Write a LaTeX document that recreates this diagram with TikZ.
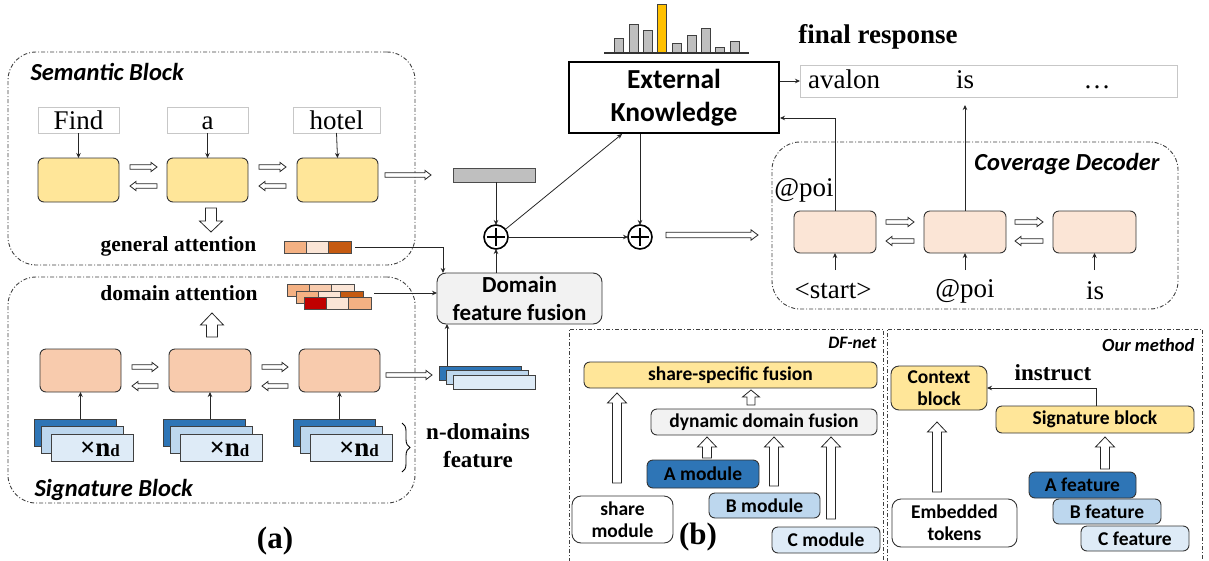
\documentclass[tikz,border=0pt]{standalone}
\usepackage{fontspec}
\setmainfont{Liberation Serif}
\newfontfamily\sansf{Carlito}
\usetikzlibrary{calc,arrows.meta,decorations.pathreplacing}

\definecolor{ylw}{HTML}{FFE699}
\definecolor{peach}{HTML}{F8CBAD}
\definecolor{peachl}{HTML}{FBE5D6}
\definecolor{orgl}{HTML}{F4B183}
\definecolor{orgd}{HTML}{C55A11}
\definecolor{redd}{HTML}{C00000}
\definecolor{blued}{HTML}{2E75B6}
\definecolor{bluem}{HTML}{BDD7EE}
\definecolor{bluel}{HTML}{DEEBF7}
\definecolor{grayf}{HTML}{F2F2F2}
\definecolor{grayb}{HTML}{BFBFBF}
\definecolor{gold}{HTML}{FFC000}

\newcommand\tokf{\fontsize{27}{30}\selectfont}
\newcommand\capf{\bfseries\fontsize{21.5}{24}\selectfont}
\newcommand\blkf{\sansf\bfseries\itshape\fontsize{24.5}{28}\selectfont}
\newcommand\boxf{\sansf\bfseries\fontsize{19.5}{22}\selectfont}

% hollow block arrow: [style] {start} {tip} {half shaft} {half head} {head length}
\newcommand\harrow[6][]{%
  \path ($#3!#6!#2$) coordinate (hb);
  \draw[hollow,#1] ($#2!#4!90:#3$) -- ($(hb)!#4!90:#3$) -- ($(hb)!#5!90:#3$) -- #3
     -- ($(hb)!#5!-90:#3$) -- ($(hb)!#4!-90:#3$) -- ($#2!#4!-90:#3$) -- cycle;}

\begin{document}
\begin{tikzpicture}[x=1pt,y=-1pt,
  blockframe/.style={draw=black!75, line width=0.9pt, dash pattern=on 4pt off 2pt on 1pt off 2pt,
      rounded corners=28pt, inner sep=0pt, outer sep=0pt},
  openframe/.style={draw=black!75, line width=0.9pt, dash pattern=on 4pt off 2pt on 1pt off 2pt},
  cell/.style={draw=black!80, line width=0.9pt, rounded corners=6pt, inner sep=0pt, outer sep=0pt},
  tok/.style={draw=black!22, line width=0.9pt, fill=white, inner sep=0pt, outer sep=0pt,
      font=\tokf, text height=18pt, text depth=0pt},
  feat/.style={draw=black!75, line width=0.9pt, inner sep=0pt, outer sep=0pt},
  attn/.style={draw=black!70, line width=0.7pt},
  bar/.style={draw=black!75, line width=0.9pt, fill=grayb},
  labelbox/.style={cell, font=\boxf, align=center},
  arr/.style={-{Stealth[length=5pt,width=4.5pt]}, line width=0.8pt, draw=black!85},
  hollow/.style={draw=black!85, fill=white, line width=0.8pt, line join=miter},
  oplus/.style={circle, draw=black, line width=1.6pt, minimum size=24pt, inner sep=0pt, outer sep=0pt},
]
\useasboundingbox (0,0) rectangle (1209,560);

% ---------- dashed block frames ----------
\node[blockframe, minimum width=407pt, minimum height=213pt] (sem) at (211.5,158.5) {};
\node[blockframe, minimum width=407pt, minimum height=226pt] (sig) at (211.5,390) {};
\node[blockframe, minimum width=406pt, minimum height=167pt] (dec) at (975,225.5) {};

\node[anchor=west, font=\blkf] (semt) at (27,72) {Semantic Block};
\node[anchor=west, font=\blkf] (sigt) at (31,490) {Signature Block};
\node[anchor=east, font=\blkf] (dect) at (1163,164) {Coverage Decoder};

% ---------- semantic block ----------
\node[tok, minimum width=81pt, minimum height=26pt] (t1) at (78.5,120) {Find};
\node[tok, minimum width=81pt, minimum height=26pt] (t2) at (207.5,120) {a};
\node[tok, minimum width=87pt, minimum height=26pt] (t3) at (336.5,120) {hotel};

\node[cell, fill=ylw, minimum width=81pt, minimum height=44pt] (s1) at (78.5,180) {};
\node[cell, fill=ylw, minimum width=81pt, minimum height=44pt] (s2) at (207.5,180) {};
\node[cell, fill=ylw, minimum width=81pt, minimum height=44pt] (s3) at (337.5,180) {};

\draw[arr] (t1.south) -- (s1.north);
\draw[arr] (t2.south) -- (s2.north);
\draw[arr] (t3.south) -- (s3.north);

\harrow{(130,167)}{(157,167)}{2.3pt}{4.6pt}{6pt}
\harrow{(157,186)}{(130,186)}{2.3pt}{4.6pt}{6pt}
\harrow{(259,167)}{(286,167)}{2.3pt}{4.6pt}{6pt}
\harrow{(286,186)}{(259,186)}{2.3pt}{4.6pt}{6pt}
\harrow{(385,175)}{(431,175)}{2.3pt}{4.6pt}{6pt}

\harrow{(211,208)}{(211,232)}{5.5pt}{11.5pt}{11pt}
\node[font=\capf] (gatt) at (178.5,246) {general attention};

\node[attn, fill=orgl, minimum width=22.33pt, minimum height=12pt, inner sep=0pt] (ga1) at (295.2,247) {};
\node[attn, fill=peachl, minimum width=22.33pt, minimum height=12pt, inner sep=0pt] (ga2) at (317.5,247) {};
\node[attn, fill=orgd, minimum width=22.33pt, minimum height=12pt, inner sep=0pt] (ga3) at (339.8,247) {};

% ---------- signature block ----------
\node[font=\capf] (datt) at (179,293) {domain attention};
\foreach \x/\y/\ca/\cb/\cc in {287/284/orgl/peach/peachl, 296/291/orgl/peachl/orgd, 304/297/redd/peachl/orgl}{
  \draw[attn, fill=\ca] (\x,\y) rectangle ++(22.33,12);
  \draw[attn, fill=\cb] ({\x+22.33},\y) rectangle ++(22.33,12);
  \draw[attn, fill=\cc] ({\x+44.66},\y) rectangle ++(22.33,12);
}
\coordinate (da) at (374,293);
\harrow{(212,337)}{(212,313)}{5.5pt}{11.5pt}{12pt}

\node[cell, fill=peach, minimum width=81pt, minimum height=43pt] (g1) at (80.5,370.5) {};
\node[cell, fill=peach, minimum width=82pt, minimum height=43pt] (g2) at (210,370.5) {};
\node[cell, fill=peach, minimum width=81pt, minimum height=43pt] (g3) at (339.5,370.5) {};

\harrow{(132,367)}{(158,367)}{2.3pt}{4.6pt}{6pt}
\harrow{(158,386)}{(132,386)}{2.3pt}{4.6pt}{6pt}
\harrow{(262,367)}{(288,367)}{2.3pt}{4.6pt}{6pt}
\harrow{(288,386)}{(262,386)}{2.3pt}{4.6pt}{6pt}
\harrow{(386,375)}{(432,375)}{2.3pt}{4.6pt}{6pt}

\foreach \d/\i in {0/1,129.5/2,259/3}{
  \node[feat, fill=blued, minimum width=82pt, minimum height=27pt] (fb\i) at ({75+\d},432.5) {};
  \node[feat, fill=bluem, minimum width=82pt, minimum height=27pt] (fm\i) at ({82+\d},439.5) {};
  \node[feat, fill=bluel, minimum width=82pt, minimum height=27pt] (ff\i) at ({92+\d},447.5) {};
  \node[inner sep=0pt] (nd\i) at ({100+\d},449) {\tokf\bfseries ×n\fontsize{17}{17}\selectfont d};
  \draw[arr] (g\i |- fb\i.north) -- (g\i.south);
}

\draw[decorate, decoration={brace, amplitude=8pt}, line width=0.9pt] (402,423) -- (402,472);
\node[font=\bfseries\fontsize{23}{28}\selectfont, align=center] (ndom) at (478,446) {n-domains\\feature};

% right feature stack
\node[feat, fill=blued, minimum width=82pt, minimum height=14pt] (rb) at (480,373) {};
\node[feat, fill=bluem, minimum width=82pt, minimum height=14pt] (rm) at (487,377) {};
\node[feat, fill=bluel, minimum width=82pt, minimum height=14pt] (rf) at (494,382) {};

% ---------- fusion and knowledge ----------
\node[cell, rounded corners=9pt, fill=grayf, minimum width=165pt, minimum height=51pt,
      font=\sansf\bfseries\fontsize{23}{28}\selectfont, align=center] (dff) at (519.5,298.5) {Domain\\feature fusion};
\node[draw=black!70, line width=0.8pt, fill=grayb, minimum width=82pt, minimum height=14pt, inner sep=0pt] (gr) at (494,175) {};

\node[oplus] (o1) at (496,237) {};
\node[oplus] (o2) at (640,237) {};
\foreach \o in {o1,o2}{
  \draw[line width=1.6pt] ($(\o)+(-9,0)$) -- ($(\o)+(9,0)$);
  \draw[line width=1.6pt] ($(\o)+(0,-9)$) -- ($(\o)+(0,9)$);
}

\node[draw=black, line width=2pt, fill=white, minimum width=210pt, minimum height=71pt, inner sep=0pt,
      font=\sansf\bfseries\fontsize{27.5}{33}\selectfont, align=center] (EK) at (674,97.5) {External\\Knowledge};

% score bars
\foreach \x/\t in {614/38,629/24,643/30,672/43,687/35,701/28,715/47,730/41}
  \draw[bar] (\x,53) rectangle ({\x+9},\t);
\draw[bar, fill=gold] (657,53) rectangle (666,4);
\draw[line width=1.6pt, black!80] (604,53) -- (749,53);

\node[font=\bfseries\fontsize{27}{30}\selectfont] (frt) at (878,37) {final response};
\node[tok, minimum width=377pt, minimum height=32pt] (fr) at (988.5,81) {};
\node[font=\tokf, text height=18pt, text depth=6pt, inner sep=0pt] (w1) at (844,82) {avalon};
\node[font=\tokf, text height=18pt, text depth=6pt, inner sep=0pt] (w2) at (965,82) {is};
\node[font=\tokf, text height=18pt, text depth=6pt, inner sep=0pt] (w3) at (1097,82) {…};

% connectors of the fusion part
\draw[arr] ($(ga3.east)+(4,0)$) -| ($(dff.north west)+(6,0)$);
\draw[arr] (da) -- (da -| dff.west);
\draw[arr] ($(rb.north west)+(8,0)$) coordinate (rq) -- (rq |- dff.south);
\draw[arr] (o1 |- dff.north) -- (o1.south);
\draw[arr] (o1 |- gr.south) -- (o1.north);
\draw[arr] (o1) -- ($(EK.south west)+(54,0)$);
\draw[arr] (o1) -- (o2);
\draw[arr] (o2 |- EK.south) -- (o2.north);
\harrow{(666,235)}{(758,235)}{2.8pt}{5.2pt}{7pt}
\draw[arr] (EK.east |- fr.west) -- (fr.west);

% ---------- coverage decoder ----------
\node[cell, fill=peachl, minimum width=82pt, minimum height=42pt] (d1) at (835,232) {};
\node[cell, fill=peachl, minimum width=82pt, minimum height=42pt] (d2) at (965,232) {};
\node[cell, fill=peachl, minimum width=83pt, minimum height=42pt] (d3) at (1094.5,232) {};
\node[font=\tokf] (poi) at (804,190) {@poi};

\harrow{(886,222)}{(914,222)}{2.3pt}{4.6pt}{6pt}
\harrow{(914,241)}{(886,241)}{2.3pt}{4.6pt}{6pt}
\harrow{(1015,222)}{(1043,222)}{2.3pt}{4.6pt}{6pt}
\harrow{(1043,241)}{(1015,241)}{2.3pt}{4.6pt}{6pt}

\node[font=\tokf] (l1) at (833,291) {<start>};
\node[font=\tokf] (l2) at (965,291) {@poi};
\node[font=\tokf] (l3) at (1095,291) {is};
\draw[arr] ($(d1.south)+(0,17)$) -- (d1.south);
\draw[arr] ($(d2.south)+(0,17)$) -- (d2.south);
\draw[arr] ($(d3.south)+(0,17)$) -- (d3.south);

\draw[arr] (d1.north) |- ($(EK.south east)+(0,-16)$);
\draw[arr] (d2.north) -- ($(d2.north |- fr.south)+(0,8)$);

\node[font=\bfseries\fontsize{31}{34}\selectfont] (la) at (275,541) {(a)};

% ---------- (b): DF-net ----------
\draw[openframe] (569,562) -- (569,329) -- (883,329) -- (883,562);
\draw[openframe] (887,562) -- (887,329) -- (1202,329) -- (1202,562);
\node[anchor=east, font=\sansf\bfseries\itshape\fontsize{17.5}{20}\selectfont] (dfn) at (880,343) {DF-net};
\node[anchor=east, font=\sansf\bfseries\itshape\fontsize{18.5}{20}\selectfont] (ourm) at (1198,345) {Our method};

\node[labelbox, fill=ylw, minimum width=293pt, minimum height=26pt] (ssf) at (730.5,375) {share-specific fusion};
\node[labelbox, fill=grayf, minimum width=226pt, minimum height=26pt] (ddf) at (764,422) {dynamic domain fusion};
\node[labelbox, fill=blued, minimum width=112pt, minimum height=28pt] (Am) at (703,474) {A module};
\node[labelbox, fill=bluem, minimum width=111pt, minimum height=25pt] (Bm) at (764.5,505.5) {B module};
\node[labelbox, fill=bluel, minimum width=108pt, minimum height=26pt] (Cm) at (826,540) {C module};
\node[labelbox, fill=white, rounded corners=9pt, minimum width=101pt, minimum height=47pt] (sm) at (622.5,519.5) {share\\module};

\harrow{(617,483)}{(617,393)}{4.5pt}{9.5pt}{10pt}
\harrow{(751,405)}{(751,390)}{4pt}{8.5pt}{7pt}
\harrow{(707,458)}{(707,437)}{4.5pt}{9.5pt}{10pt}
\harrow{(774,486)}{(774,437)}{4.5pt}{9.5pt}{10pt}
\harrow{(831,519)}{(831,437)}{4.5pt}{9.5pt}{10pt}

\node[font=\bfseries\fontsize{31}{34}\selectfont] (lb) at (698,537) {(b)};

% ---------- (b): our method ----------
\node[labelbox, fill=ylw, rounded corners=8pt, minimum width=96pt, minimum height=44pt] (cb) at (939,388) {Context\\block};
\node[labelbox, fill=ylw, minimum width=198pt, minimum height=27pt] (sb) at (1095,419.5) {Signature block};
\node[labelbox, fill=white, rounded corners=9pt, minimum width=125pt, minimum height=48pt] (et) at (954.5,523) {Embedded\\tokens};
\node[labelbox, fill=blued, minimum width=107pt, minimum height=26pt] (Af) at (1082.5,485) {A feature};
\node[labelbox, fill=bluem, minimum width=108pt, minimum height=25pt] (Bf) at (1107,511.5) {B feature};
\node[labelbox, fill=bluel, minimum width=108pt, minimum height=25pt] (Cf) at (1135,538.5) {C feature};
\node[font=\bfseries\fontsize{23}{26}\selectfont] (ins) at (1053,373) {instruct};

\draw[arr] ($(sb.north west)+(100,0)$) |- (cb.east);
\harrow{(937,492)}{(937,422)}{4.5pt}{9.5pt}{10pt}
\harrow{(1105,469)}{(1105,437)}{4.5pt}{9.5pt}{10pt}

\end{tikzpicture}
\end{document}
